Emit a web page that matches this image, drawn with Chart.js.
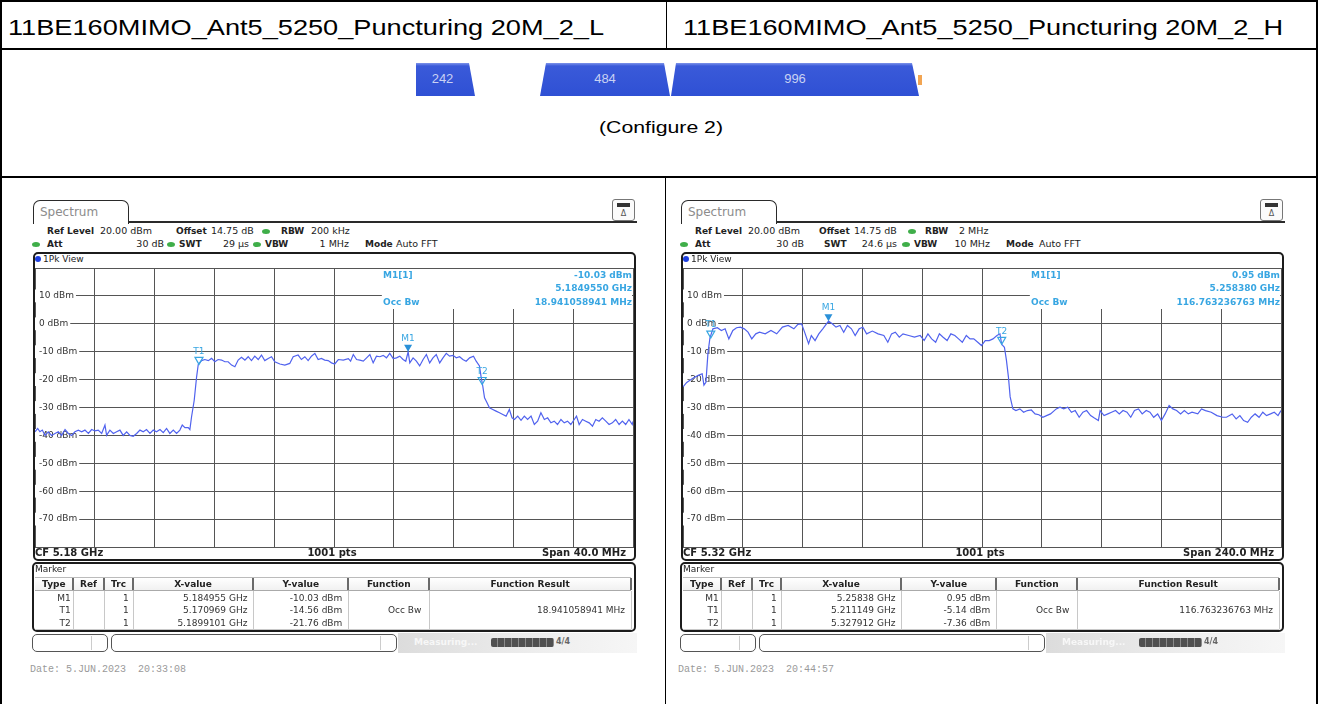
<!DOCTYPE html>
<html><head><meta charset="utf-8">
<script src="https://cdn.jsdelivr.net/npm/chart.js@4.4.1/dist/chart.umd.min.js"></script>
<style>
html,body{margin:0;padding:0;background:#fff}
body{width:1318px;height:704px;position:relative;overflow:hidden;font-family:"DejaVu Sans",sans-serif}
.a{position:absolute;white-space:pre;line-height:14px;height:14px;z-index:2}
.i{font-family:"DejaVu Sans",sans-serif;font-size:9px;color:#222}
.b{font-weight:bold}
canvas{position:absolute;z-index:1}
</style></head><body>
<script>
// ================= DATA =================
const titles = ['11BE160MIMO_Ant5_5250_Puncturing 20M_2_L', '11BE160MIMO_Ant5_5250_Puncturing 20M_2_H'];
const configureLabel = '(Configure 2)';
const ruLabels = ['242', '484', '996'];
const centerFreqGHz = [5.18, 5.32];
const spanMHz = [40, 240];
const pointsLabel = '1001 pts';
const yMinDbm = -80, yMaxDbm = 20, yStepDbm = 10;

const leftFreqMHz = [-20,-19.82,-19.67,-19.51,-19.33,-19.11,-18.89,-18.66,-18.44,-18.22,-17.99,-17.77,-17.55,-17.33,-17.10,-16.88,-16.66,-16.43,-16.21,-15.99,-15.77,-15.54,-15.32,-15.21,-14.99,-14.76,-14.54,-14.32,-14.10,-13.87,-13.65,-13.43,-13.20,-12.98,-12.76,-12.54,-12.31,-12.09,-11.87,-11.64,-11.42,-11.20,-10.98,-10.75,-10.53,-10.31,-10.15,-9.97,-9.75,-9.64,-9.53,-9.35,-9.19,-9.08,-8.86,-8.64,-8.41,-8.19,-7.97,-7.75,-7.52,-7.30,-7.08,-6.85,-6.63,-6.41,-6.19,-5.96,-5.74,-5.52,-5.30,-5.07,-4.85,-4.63,-4.40,-4.18,-3.96,-3.62,-3.29,-2.96,-2.73,-2.40,-2.18,-1.95,-1.73,-1.51,-1.28,-1.06,-0.84,-0.62,-0.39,-0.17,0.05,0.29,0.62,0.96,1.11,1.29,1.51,1.73,1.96,2.18,2.40,2.62,2.84,3.07,3.29,3.51,3.73,3.96,4.18,4.40,4.62,4.80,4.96,5.07,5.29,5.51,5.73,5.96,6.18,6.40,6.62,6.84,7.07,7.29,7.51,7.73,7.96,8.18,8.40,8.62,8.84,9.07,9.33,9.51,9.73,9.84,9.95,10.07,10.22,10.40,10.62,10.84,11.07,11.29,11.51,11.73,11.91,12.07,12.29,12.51,12.73,12.95,13.18,13.40,13.62,13.84,14.07,14.29,14.51,14.73,14.95,15.18,15.40,15.62,15.84,16.07,16.22,16.40,16.62,16.84,17.07,17.29,17.51,17.73,17.95,18.18,18.40,18.62,18.84,19.07,19.29,19.51,19.73,19.95,20];
const leftLevelDbm = [-38.7,-37.5,-38.7,-38.1,-40,-38.7,-40,-39.3,-38.7,-40,-37.9,-39.3,-40,-38.7,-38.1,-38.7,-38.1,-39.3,-37.9,-38.4,-38.1,-39.3,-36.3,-40,-38.1,-39.3,-38.7,-38.1,-40,-38.7,-40,-40.3,-39.3,-38.1,-38.7,-37.9,-39.3,-38.1,-38.7,-37.9,-39,-37.5,-39.3,-38.1,-39.3,-38.1,-36.3,-37.2,-37.2,-37.9,-33.4,-27.4,-19,-14.6,-13.2,-12.8,-13.2,-12.4,-13.6,-12.8,-13,-13.6,-13.6,-14.8,-15.4,-13,-12,-13,-11.8,-13.2,-11.6,-12.8,-11.2,-13.2,-12.4,-11.8,-13.6,-14.4,-14.8,-14.2,-11.8,-11.2,-12.8,-11.8,-13.2,-11.6,-10.6,-12.8,-12.4,-13,-13.2,-14,-14.4,-12.8,-13,-12.5,-13.4,-11,-12.8,-13,-13.4,-12.2,-11,-14,-11.6,-11.8,-11.3,-12.2,-10.6,-12.5,-12.2,-11.6,-12.8,-13.4,-10.03,-14,-12.2,-13.4,-15.1,-12.8,-11,-14,-12.2,-11,-14,-12.2,-10.6,-11.6,-11.3,-12.2,-11.8,-12.8,-13.4,-12.2,-11.6,-13.4,-15.1,-19,-22.3,-26.5,-28.1,-30.1,-30.7,-31.3,-31.9,-32.5,-33.1,-30.7,-33.7,-34.3,-33.1,-34.6,-33.1,-34.3,-33.1,-36.1,-34.9,-31.9,-34.3,-33.7,-35.5,-34.9,-36.1,-34.3,-35.5,-34.9,-36.1,-34.3,-33.1,-36.1,-34.3,-34.9,-35.5,-36.7,-34.3,-34.9,-33.7,-34.9,-36.1,-35.5,-34.3,-36.1,-34.9,-36.1,-34.3,-36.1,-35];

const rightFreqMHz = [-120,-118.5,-116.2,-113.9,-112.3,-111.6,-110.8,-110.0,-109.2,-108.0,-106.2,-104.6,-103.1,-101.6,-100.0,-98.5,-97.0,-95.4,-93.9,-92.4,-90.8,-89.3,-87.0,-84.7,-82.4,-80.1,-77.8,-75.5,-73.9,-72.4,-71.2,-69.6,-68.5,-67.0,-65.5,-63.9,-61.6,-60.1,-58.6,-57.0,-55.5,-54.0,-52.4,-50.9,-49.3,-47.8,-46.3,-44.0,-41.7,-39.4,-37.8,-36.3,-34.8,-33.2,-31.7,-29.4,-27.1,-24.8,-23.2,-21.7,-20.2,-18.6,-17.1,-15.6,-14.0,-12.5,-10.9,-9.4,-7.9,-6.3,-4.8,-3.3,-1.7,-0.2,1.3,2.9,4.4,6.0,7.2,7.9,9.0,9.8,10.6,11.3,12.4,13.6,15.2,16.7,18.2,19.8,21.3,22.8,24.4,25.9,27.5,29.8,31.3,32.8,34.4,35.9,37.4,39.0,40.5,42.0,43.6,45.1,46.7,47.4,49.0,50.5,52.0,53.6,55.1,56.6,58.2,59.7,61.2,62.8,64.3,65.9,67.4,68.9,70.5,72.0,73.5,75.1,76.6,78.1,79.7,81.2,82.8,84.3,86.6,88.1,89.7,92.0,94.3,96.6,98.1,100.4,102.0,103.5,105.0,106.6,108.1,109.6,111.2,112.7,114.2,115.8,117.3,118.8,120];
const rightLevelDbm = [-22.6,-21,-19.6,-18.5,-17.9,-22,-21,-10.7,-5.1,-1.8,-1.4,-2.4,-1.8,-5.4,-2.4,-1.4,-1.2,-1.8,-3,-5.4,-3.6,-3,-3.6,-2.4,-3.6,-1.2,-0.6,-1.8,-0.2,0,-3,-7.1,-4.2,-6,-3.6,-1.8,0.95,0,-1.2,-0.6,-3,-0.6,-1.8,-4.2,-1.8,-1.2,-3.6,-2.6,-3.6,-4.2,-6.6,-3.6,-3,-4.8,-3.6,-4.2,-4.8,-4.2,-6,-3.6,-5.4,-6.6,-3.6,-4.8,-6,-3.6,-4.2,-5.4,-6.6,-4.2,-5.4,-5.4,-6.6,-7.8,-6,-6,-5.4,-4.2,-3.6,-7.36,-8.4,-13,-19,-26.2,-30.5,-31.1,-30.5,-31.7,-31.1,-30.9,-32.3,-32.6,-33.5,-32.9,-32.3,-30.5,-29.9,-30.5,-29.9,-31.7,-31.1,-33.5,-31.7,-31.1,-32.9,-33.8,-34.7,-31.1,-32.9,-32.3,-31.7,-31.1,-32.3,-31.1,-31.7,-33.5,-31.1,-30.5,-32.3,-31.1,-31.7,-33.5,-32.3,-34.7,-32.3,-29.3,-30.5,-31.1,-32.3,-31.1,-32.3,-31.7,-32.3,-30.5,-31.1,-31.7,-32.9,-33.5,-33.5,-32.3,-34.1,-32.9,-34.7,-35.3,-33.5,-32.3,-33.5,-31.7,-32.9,-32.3,-31.7,-32.9,-31.1];

const markerTypes = ['M1', 'T1', 'T2'];
const leftMarkerGHz = [5.184955, 5.170969, 5.1899101];
const leftMarkerDbm = [-10.03, -14.56, -21.76];
const leftMarkerXText = ['5.184955 GHz', '5.170969 GHz', '5.1899101 GHz'];
const rightMarkerGHz = [5.25838, 5.211149, 5.327912];
const rightMarkerDbm = [0.95, -5.14, -7.36];
const rightMarkerXText = ['5.25838 GHz', '5.211149 GHz', '5.327912 GHz'];
const m1InfoGHzText = ['5.1849550 GHz', '5.258380 GHz'];
const occBwText = ['18.941058941 MHz', '116.763236763 MHz'];
const dateText = ['Date: 5.JUN.2023  20:33:08', 'Date: 5.JUN.2023  20:44:57'];

// ================= HELPERS =================
function E(tag, css, text, parent) {
  const e = document.createElement(tag);
  e.style.cssText = css;
  if (text != null) e.textContent = text;
  (parent || document.body).appendChild(e);
  return e;
}
function R(x, y, w, h, css) {
  return E('div', `position:absolute;left:${x}px;top:${y}px;width:${w}px;height:${h}px;box-sizing:border-box;` + (css || ''));
}
function T(x, y, txt, cls, align, extra) {
  const e = E('div', `left:${x}px;top:${y - 7}px;` + (extra || ''), txt);
  e.className = 'a ' + (cls || '');
  if (align === 'r') e.style.transform = 'translateX(-100%)';
  else if (align === 'c') e.style.transform = 'translateX(-50%)';
  return e;
}
function fitText(x, yc, txt, size, targetW) {
  const e = E('div', `position:absolute;left:${x}px;top:${yc - size * 0.6}px;font-family:"Liberation Sans",Arial,sans-serif;font-size:${size}px;line-height:${size * 1.2}px;white-space:pre;color:#000;transform-origin:0 50%`, txt);
  const w = e.getBoundingClientRect().width;
  e.style.transform = `scaleX(${targetW / w})`;
  return e;
}

// ================= OUTER TABLE =================
R(0, 0, 1318, 2, 'background:#000');
R(0, 0, 2, 704, 'background:#000');
R(1316, 0, 2, 704, 'background:#000');
R(0, 48, 1318, 2, 'background:#000');
R(0, 176, 1318, 2, 'background:#000');
R(666, 0, 1, 49, 'background:#000');
R(665, 177, 1, 527, 'background:#000');

fitText(8, 28, titles[0], 22, 596);
fitText(683, 28, titles[1], 22, 600);
fitText(599, 128, configureLabel, 17, 124);

// RU banner
const ruShapes = [
  [416, 59, 'polygon(0 0,53px 0,59px 100%,0 100%)'],
  [540, 130, 'polygon(6px 0,124px 0,130px 100%,0 100%)'],
  [671, 248, 'polygon(5px 0,241px 0,248px 100%,0 100%)']
];
ruShapes.forEach((s, i) => {
  R(s[0], 63, s[1], 33, `background:linear-gradient(#7d93ea 0,#3a5ad9 3px,#2f50d4 100%);clip-path:${s[2]}`);
  T(s[0] + s[1] / 2 + (i === 0 ? -3 : 0), 79, ruLabels[i], '', 'c', 'font-family:"Liberation Sans Narrow","Liberation Sans",sans-serif;font-size:13px;color:#c9d2f3;transform:translateX(-50%) scaleX(0.85)');
});
R(918, 75, 4, 10, 'background:#f2a552');

// ================= SPECTRUM PANELS =================
const GRID = '#555';
const TRACE = '#5062ee';
const MARK = '#38a6e2';

const markerPlugin = {
  id: 'markers',
  beforeDatasetsDraw(chart) {
    const a = chart.chartArea, c = chart.ctx;
    const bx = a.left + (a.right - a.left) * 0.58;
    c.save();
    c.fillStyle = '#fff';
    c.fillRect(bx, a.top + 1, a.right - bx - 1, 40);
    c.restore();
  },
  afterDatasetsDraw(chart) {
    const mk = chart.options.plugins.markers;
    const xs = chart.scales.x, ys = chart.scales.y, c = chart.ctx;
    c.save();
    mk.names.forEach((n, i) => {
      const px = xs.getPixelForValue((mk.ghz[i] - mk.cf) * 1000);
      const py = ys.getPixelForValue(mk.dbm[i]);
      c.beginPath();
      c.moveTo(px - 4, py - 7);
      c.lineTo(px + 4, py - 7);
      c.lineTo(px, py);
      c.closePath();
      if (n[0] === 'M') { c.fillStyle = '#2a90d8'; c.fill(); }
      else { c.strokeStyle = MARK; c.lineWidth = 1.2; c.stroke(); }
      c.fillStyle = MARK;
      c.font = '9px "DejaVu Sans"';
      c.textAlign = 'center';
      c.textBaseline = 'middle';
      c.fillText(n, px, py - 13);
    });
    c.restore();
  }
};

function buildPanel(p) {
  const ox = p.ox;
  // tab + header
  R(33 + ox, 200, 96, 24, 'border:1.5px solid #2a2a2a;border-bottom:none;border-radius:7px 7px 0 0;background:#fff');
  T(40 + ox, 212, 'Spectrum', '', 'l', 'font-family:"DejaVu Sans";font-size:12px;color:#8c8c8c');
  R(128 + ox, 221, 509, 1.5, 'background:#2a2a2a');
  R(612 + ox, 199, 23, 22, 'border:1px solid #777;border-radius:3px;background:#fbfbfb');
  R(617 + ox, 203, 13, 4, 'background:#333;border:1px solid #333');
  T(623.5 + ox, 214, 'Δ', '', 'c', 'font-family:"DejaVu Sans";font-size:8px;color:#555');
  p.header.forEach(h => {
    if (h[2] === '•') {
      R(h[0] - 4, h[1] - 2.5, 8, 5, 'background:#3fae49;border-radius:50%');
    } else {
      T(h[0], h[1], h[2], 'i' + (h[3] ? ' b' : ''), h[4] || 'l', h[3] ? '' : 'font-size:9.5px');
    }
  });
  // plot frame
  R(33 + ox, 252, 603, 309, 'border:2px solid #1c1c1c;border-radius:5px');
  R(35 + ox, 256, 6, 6, 'background:#1d3fe0;border-radius:50%');
  T(43 + ox, 259, '1Pk View', 'i', 'l', 'font-size:9px');
  // canvas
  const cv = E('canvas', `left:${33 + ox}px;top:266px;width:603px;height:283px`);
  cv.width = 603; cv.height = 283;
  const half = p.span / 2;
  new Chart(cv, {
    type: 'line',
    data: { datasets: [{ data: p.freq.map((f, i) => ({ x: f, y: p.level[i] })), borderColor: TRACE, borderWidth: 1.2, pointRadius: 0, tension: 0, fill: false }] },
    options: {
      responsive: false, animation: false, devicePixelRatio: 1,
      layout: { padding: { left: 2, right: 3, top: 2, bottom: 2 } },
      plugins: {
        legend: { display: false }, tooltip: { enabled: false },
        markers: { names: markerTypes, ghz: p.mGHz, dbm: p.mDbm, cf: p.cf }
      },
      scales: {
        x: {
          type: 'linear', min: -half, max: half,
          afterFit(s) { s.height = 0; s.paddingLeft = 0; s.paddingRight = 0; s.paddingTop = 0; s.paddingBottom = 0; },
          ticks: { display: false, stepSize: p.span / 10 },
          grid: { color: GRID, lineWidth: 1, drawTicks: false },
          border: { display: true, color: GRID }
        },
        y: {
          min: yMinDbm, max: yMaxDbm,
          afterFit(s) { s.width = 0; s.paddingTop = 0; s.paddingBottom = 0; s.paddingLeft = 0; s.paddingRight = 0; },
          ticks: {
            stepSize: yStepDbm, mirror: true, padding: 4,
            font: { family: 'DejaVu Sans', size: 9 }, color: '#333',
            callback: v => (v >= yMaxDbm || v <= yMinDbm) ? '' : v + ' dBm',
            showLabelBackdrop: true,
            backdropColor: ctx => (ctx.tick && (ctx.tick.value >= yMaxDbm || ctx.tick.value <= yMinDbm)) ? 'rgba(0,0,0,0)' : '#fff',
            backdropPadding: { left: 4, right: 2, top: 1, bottom: 1 }
          },
          grid: { color: GRID, lineWidth: 1, drawTicks: false },
          border: { display: true, color: GRID }
        }
      }
    },
    plugins: [markerPlugin]
  });
  // marker info
  const ic = 'font-family:"DejaVu Sans";font-size:9px;font-weight:bold;color:' + MARK;
  T(383 + ox, 275, 'M1[1]', '', 'l', ic);
  T(632 + ox, 275, p.mDbm[0].toFixed(2) + ' dBm', '', 'r', ic);
  T(632 + ox, 288, p.m1Text, '', 'r', ic);
  T(383 + ox, 302, 'Occ Bw', '', 'l', ic);
  T(632 + ox, 302, p.occ, '', 'r', ic);
  // CF row
  const bc = 'font-size:10px';
  T(35 + ox, 553, 'CF ' + p.cf + ' GHz', 'i b', 'l', bc);
  T(332 + ox, 553, pointsLabel, 'i b', 'c', bc);
  T(626 + ox, 553, 'Span ' + p.span.toFixed(1) + ' MHz', 'i b', 'r', bc);
  // marker box
  R(32 + ox, 562, 604, 70, 'border:2px solid #1c1c1c;border-radius:5px');
  T(35 + ox, 569, 'Marker', 'i', 'l', 'font-size:9px');
  const cols = [35, 72.7, 104.3, 132.8, 253.4, 348.3, 429.3, 631].map(v => v + ox);
  R(cols[0], 577, cols[7] - cols[0], 14, 'border-top:1px solid #bbb;border-bottom:1px solid #aaa;background:linear-gradient(#fff,#f1f1f1)');
  const heads = ['Type', 'Ref', 'Trc', 'X-value', 'Y-value', 'Function', 'Function Result'];
  heads.forEach((h, i) => {
    T((cols[i] + cols[i + 1]) / 2, 584, h, 'i b', 'c', 'font-size:9px');
    R(cols[i + 1] - 1, 578, 2, 12, 'background:#6a6a6a');
  });
  const rowY = [591, 603.5, 616, 628.5];
  for (let r = 0; r < 3; r++) {
    R(cols[0], rowY[r], cols[7] - cols[0], rowY[r + 1] - rowY[r] + 1, 'border-bottom:1px solid #c8c8c8;background:#fff');
  }
  for (let i = 1; i < 7; i++) R(cols[i], 591, 1, 38, 'background:#c8c8c8');
  R(cols[7], 591, 1, 38, 'background:#c8c8c8');
  const pad = [2, 4, 4, 6, 6, 8, 6];
  for (let r = 0; r < 3; r++) {
    const yc = (rowY[r] + rowY[r + 1]) / 2 + 0.5;
    const cells = [markerTypes[r], '', '1', p.xText[r], p.mDbm[r].toFixed(2) + ' dBm', r === 1 ? 'Occ Bw' : '', r === 1 ? p.occ : ''];
    cells.forEach((t, i) => { if (t) T(cols[i + 1] - pad[i], yc, t, 'i', 'r', 'font-size:9px;color:#333'); });
  }
  // status bar
  R(32 + ox, 634, 76, 18, 'border:1px solid #555;border-radius:5px');
  R(91 + ox, 636, 1, 14, 'background:#ccc');
  R(111 + ox, 634, 286, 18, 'border:1px solid #555;border-radius:5px');
  R(380 + ox, 636, 1, 14, 'background:#ccc');
  R(398 + ox, 633, 239, 20, 'background:linear-gradient(90deg,#dcdcdc,#eeeeee 60%,#f6f6f6)');
  T(414 + ox, 642, 'Measuring...', 'i b', 'l', 'font-size:9px;color:#f7f7f7');
  R(491 + ox, 638, 63, 9, 'background:repeating-linear-gradient(90deg,#505050 0,#505050 6px,#8a8a8a 6px,#8a8a8a 7px);border-radius:2px');
  T(563 + ox, 642, '4/4', 'i b', 'c', 'font-size:8px;color:#666');
  // date
  T(30 + ox, 670, p.date, '', 'l', 'font-family:"Liberation Mono",monospace;font-size:10px;color:#9a9a9a');
}

buildPanel({
  ox: 0, cf: centerFreqGHz[0], span: spanMHz[0], freq: leftFreqMHz, level: leftLevelDbm,
  mGHz: leftMarkerGHz, mDbm: leftMarkerDbm, xText: leftMarkerXText, m1Text: m1InfoGHzText[0], occ: occBwText[0], date: dateText[0],
  header: [
    [47, 231, 'Ref Level', true], [100, 231, '20.00 dBm'], [176, 231, 'Offset', true], [211, 231, '14.75 dB'], [266, 231, '•'], [281, 231, 'RBW', true], [311, 231, '200 kHz'],
    [36, 244, '•'], [47, 244, 'Att', true], [164, 244, '30 dB', false, 'r'], [171, 244, '•'], [179, 244, 'SWT', true], [249, 244, '29 µs', false, 'r'], [257, 244, '•'], [265, 244, 'VBW', true], [349, 244, '1 MHz', false, 'r'], [365, 244, 'Mode', true], [396, 244, 'Auto FFT']
  ]
});
buildPanel({
  ox: 648, cf: centerFreqGHz[1], span: spanMHz[1], freq: rightFreqMHz, level: rightLevelDbm,
  mGHz: rightMarkerGHz, mDbm: rightMarkerDbm, xText: rightMarkerXText, m1Text: m1InfoGHzText[1], occ: occBwText[1], date: dateText[1],
  header: [
    [695, 231, 'Ref Level', true], [748, 231, '20.00 dBm'], [819, 231, 'Offset', true], [854, 231, '14.75 dB'], [912, 231, '•'], [925, 231, 'RBW', true], [959, 231, '2 MHz'],
    [684, 244, '•'], [695, 244, 'Att', true], [804, 244, '30 dB', false, 'r'], [824, 244, 'SWT', true], [897, 244, '24.6 µs', false, 'r'], [906, 244, '•'], [914, 244, 'VBW', true], [990, 244, '10 MHz', false, 'r'], [1006, 244, 'Mode', true], [1039, 244, 'Auto FFT']
  ]
});
</script>
</body></html>
